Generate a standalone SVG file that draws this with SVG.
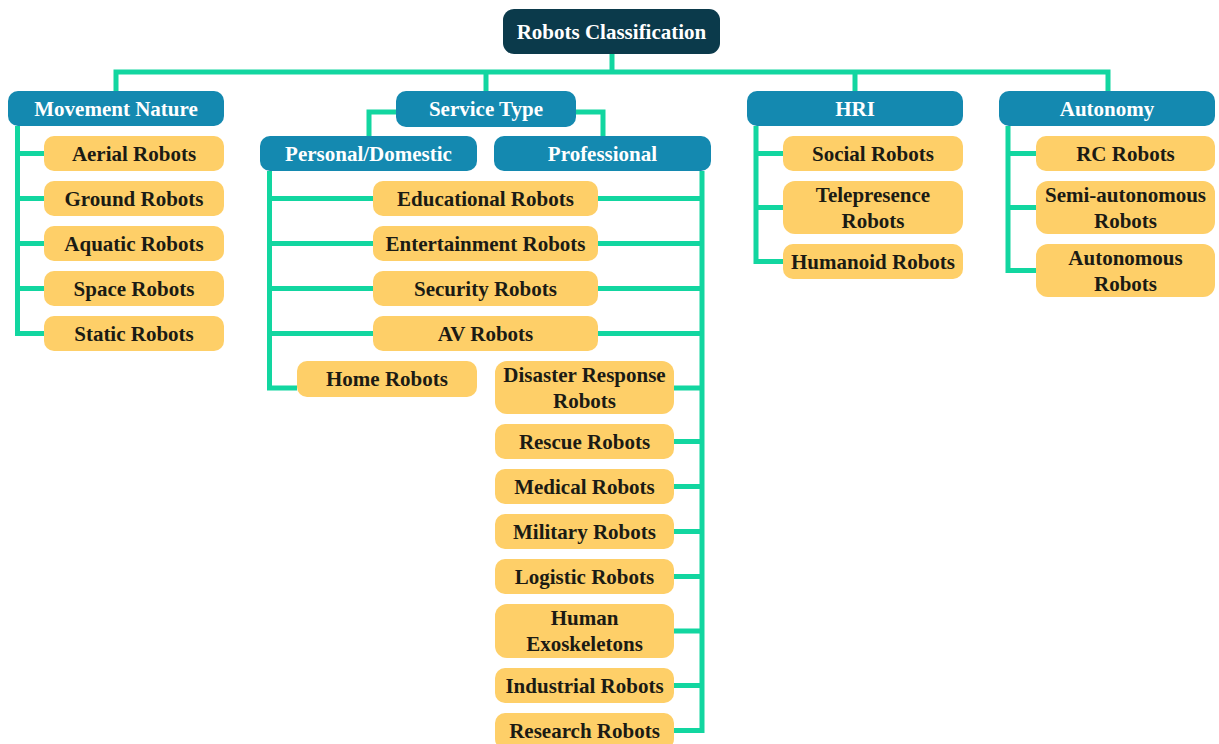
<svg xmlns="http://www.w3.org/2000/svg" width="1219" height="744" viewBox="0 0 1219 744">
  <style>
    .link { fill: none; stroke: #12d6a0; stroke-width: 5; stroke-linejoin: miter; stroke-linecap: butt; }
    .root rect { fill: #0b3a4b; }
    .cat rect { fill: #1489b0; }
    .leaf rect { fill: #fecf68; }
    text { font-family: "Liberation Serif", "Times New Roman", serif; font-weight: bold; font-size: 21px; text-anchor: middle; }
    .root text, .cat text { fill: #ffffff; }
    .leaf text { fill: #1b1b14; }
  </style>
  <rect width="1219" height="744" fill="#ffffff"/>

  <!-- connectors -->
  <g id="connectors" class="link">
    <path d="M612 54 V72"/>
    <path d="M116 92 V72 H1108 V92"/>
    <path d="M486 72 V92"/>
    <path d="M855 72 V92"/>
    <!-- movement nature -->
    <path d="M17.5 126 V333.5 H44"/>
    <path d="M17.5 153.5 H44 M17.5 198.5 H44 M17.5 243.5 H44 M17.5 288.5 H44"/>
    <!-- service type split -->
    <path d="M396 112 H369 V137"/>
    <path d="M576 112 H603 V137"/>
    <!-- personal / domestic -->
    <path d="M269.5 171 V388 H297"/>
    <path d="M269.5 198.5 H373 M269.5 243.5 H373 M269.5 288.5 H373 M269.5 333.5 H373"/>
    <!-- professional -->
    <path d="M702 171 V730.5 H674"/>
    <path d="M598 198.5 H702 M598 243.5 H702 M598 288.5 H702 M598 333.5 H702"/>
    <path d="M674 388 H702 M674 441.5 H702 M674 486.5 H702 M674 531.5 H702 M674 576.5 H702 M674 631 H702 M674 685.5 H702"/>
    <!-- hri -->
    <path d="M756 126 V261.5 H783"/>
    <path d="M756 153.5 H783 M756 207.5 H783"/>
    <!-- autonomy -->
    <path d="M1008 126 V270.5 H1036"/>
    <path d="M1008 153.5 H1036 M1008 207.5 H1036"/>
  </g>

  <!-- root -->
  <g id="robots-classification" class="root">
    <rect x="503" y="9" width="217" height="45" rx="11"/>
    <text x="611.5" y="38.5">Robots Classification</text>
  </g>

  <!-- categories -->
  <g id="movement-nature" class="cat">
    <rect x="8" y="91" width="216" height="35" rx="10"/>
    <text x="116" y="115.5">Movement Nature</text>
  </g>
  <g id="service-type" class="cat">
    <rect x="396" y="91" width="180" height="36" rx="10"/>
    <text x="486" y="116">Service Type</text>
  </g>
  <g id="personal-domestic" class="cat">
    <rect x="260" y="136" width="217" height="35" rx="10"/>
    <text x="368.5" y="160.5">Personal/Domestic</text>
  </g>
  <g id="professional" class="cat">
    <rect x="494" y="136" width="217" height="35" rx="10"/>
    <text x="602.5" y="160.5">Professional</text>
  </g>
  <g id="hri" class="cat">
    <rect x="747" y="91" width="216" height="35" rx="10"/>
    <text x="855" y="115.5">HRI</text>
  </g>
  <g id="autonomy" class="cat">
    <rect x="999" y="91" width="216" height="35" rx="10"/>
    <text x="1107" y="115.5">Autonomy</text>
  </g>

  <!-- movement nature leaves -->
  <g id="aerial-robots" class="leaf">
    <rect x="44" y="136" width="180" height="35" rx="10"/>
    <text x="134" y="160.5">Aerial Robots</text>
  </g>
  <g id="ground-robots" class="leaf">
    <rect x="44" y="181" width="180" height="35" rx="10"/>
    <text x="134" y="205.5">Ground Robots</text>
  </g>
  <g id="aquatic-robots" class="leaf">
    <rect x="44" y="226" width="180" height="35" rx="10"/>
    <text x="134" y="250.5">Aquatic Robots</text>
  </g>
  <g id="space-robots" class="leaf">
    <rect x="44" y="271" width="180" height="35" rx="10"/>
    <text x="134" y="295.5">Space Robots</text>
  </g>
  <g id="static-robots" class="leaf">
    <rect x="44" y="316" width="180" height="35" rx="10"/>
    <text x="134" y="340.5">Static Robots</text>
  </g>

  <!-- shared service leaves -->
  <g id="educational-robots" class="leaf">
    <rect x="373" y="181" width="225" height="35" rx="10"/>
    <text x="485.5" y="205.5">Educational Robots</text>
  </g>
  <g id="entertainment-robots" class="leaf">
    <rect x="373" y="226" width="225" height="35" rx="10"/>
    <text x="485.5" y="250.5">Entertainment Robots</text>
  </g>
  <g id="security-robots" class="leaf">
    <rect x="373" y="271" width="225" height="35" rx="10"/>
    <text x="485.5" y="295.5">Security Robots</text>
  </g>
  <g id="av-robots" class="leaf">
    <rect x="373" y="316" width="225" height="35" rx="10"/>
    <text x="485.5" y="340.5">AV Robots</text>
  </g>
  <g id="home-robots" class="leaf">
    <rect x="297" y="361" width="180" height="36" rx="10"/>
    <text x="387" y="386">Home Robots</text>
  </g>

  <!-- professional leaves -->
  <g id="disaster-response-robots" class="leaf">
    <rect x="495" y="361" width="179" height="53" rx="12"/>
    <text x="584.5" y="382">Disaster Response</text>
    <text x="584.5" y="408">Robots</text>
  </g>
  <g id="rescue-robots" class="leaf">
    <rect x="495" y="424" width="179" height="35" rx="10"/>
    <text x="584.5" y="448.5">Rescue Robots</text>
  </g>
  <g id="medical-robots" class="leaf">
    <rect x="495" y="469" width="179" height="35" rx="10"/>
    <text x="584.5" y="493.5">Medical Robots</text>
  </g>
  <g id="military-robots" class="leaf">
    <rect x="495" y="514" width="179" height="35" rx="10"/>
    <text x="584.5" y="538.5">Military Robots</text>
  </g>
  <g id="logistic-robots" class="leaf">
    <rect x="495" y="559" width="179" height="35" rx="10"/>
    <text x="584.5" y="583.5">Logistic Robots</text>
  </g>
  <g id="human-exoskeletons" class="leaf">
    <rect x="495" y="604" width="179" height="54" rx="12"/>
    <text x="584.5" y="625">Human</text>
    <text x="584.5" y="651">Exoskeletons</text>
  </g>
  <g id="industrial-robots" class="leaf">
    <rect x="495" y="668" width="179" height="35" rx="10"/>
    <text x="584.5" y="692.5">Industrial Robots</text>
  </g>
  <g id="research-robots" class="leaf">
    <rect x="495" y="713" width="179" height="36" rx="10"/>
    <text x="584.5" y="737.5">Research Robots</text>
  </g>

  <!-- hri leaves -->
  <g id="social-robots" class="leaf">
    <rect x="783" y="136" width="180" height="35" rx="10"/>
    <text x="873" y="160.5">Social Robots</text>
  </g>
  <g id="telepresence-robots" class="leaf">
    <rect x="783" y="181" width="180" height="53" rx="12"/>
    <text x="873" y="202">Telepresence</text>
    <text x="873" y="228">Robots</text>
  </g>
  <g id="humanoid-robots" class="leaf">
    <rect x="783" y="244" width="180" height="35" rx="10"/>
    <text x="873" y="268.5">Humanoid Robots</text>
  </g>

  <!-- autonomy leaves -->
  <g id="rc-robots" class="leaf">
    <rect x="1036" y="136" width="179" height="35" rx="10"/>
    <text x="1125.5" y="160.5">RC Robots</text>
  </g>
  <g id="semi-autonomous-robots" class="leaf">
    <rect x="1036" y="181" width="179" height="53" rx="12"/>
    <text x="1125.5" y="202">Semi-autonomous</text>
    <text x="1125.5" y="228">Robots</text>
  </g>
  <g id="autonomous-robots" class="leaf">
    <rect x="1036" y="244" width="179" height="53" rx="12"/>
    <text x="1125.5" y="265">Autonomous</text>
    <text x="1125.5" y="291">Robots</text>
  </g>
</svg>
